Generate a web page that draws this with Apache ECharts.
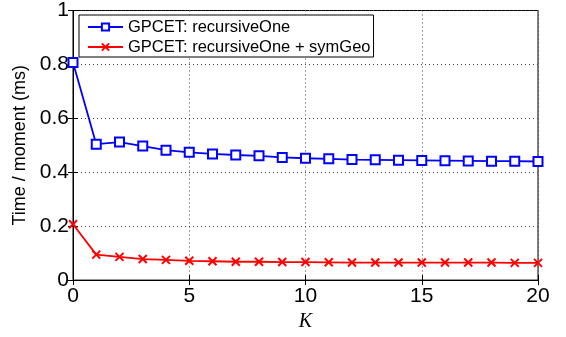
<!DOCTYPE html>
<html><head><meta charset="utf-8">
<script src="https://cdn.jsdelivr.net/npm/echarts@6/dist/echarts.min.js"></script>
<style>html,body{margin:0;padding:0;background:#fff}#c{width:566px;height:337px}</style>
</head><body><div id="c"></div>
<script>
const kValues = [0,1,2,3,4,5,6,7,8,9,10,11,12,13,14,15,16,17,18,19,20];
const recursiveOne = [0.807,0.504,0.512,0.497,0.482,0.474,0.468,0.464,0.461,0.455,0.452,0.450,0.447,0.446,0.445,0.444,0.443,0.442,0.441,0.441,0.440];
const recursiveOneSymGeo = [0.207,0.0945,0.086,0.078,0.075,0.0715,0.070,0.068,0.068,0.067,0.067,0.066,0.065,0.065,0.065,0.065,0.065,0.065,0.065,0.064,0.064];
const seriesNames = ['GPCET: recursiveOne','GPCET: recursiveOne + symGeo'];
const yAxisName = 'Time / moment (ms)';
const xAxisName = 'K';

const font = 'Liberation Sans, Helvetica, Arial, sans-serif';
const chart = echarts.init(document.getElementById('c'), null, {renderer:'canvas'});
const gridLine = {show:true, lineStyle:{color:'#444', type:[1,3], width:1}};
const tickIn = {show:true, inside:true, length:5, lineStyle:{color:'#000'}};
chart.setOption({
  animation:false,
  grid:{left:73, right:28, top:8, bottom:54, show:true, borderColor:'#000', borderWidth:1, backgroundColor:'transparent'},
  legend:{
    orient:'vertical', left:79, top:15, padding:[3,3,1,8], itemGap:2,
    itemWidth:35, itemHeight:9,
    backgroundColor:'#fff', borderColor:'#000', borderWidth:1,
    textStyle:{fontFamily:font, fontSize:16.5, color:'#000', lineHeight:18},
    data:seriesNames
  },
  xAxis:[{
    type:'value', min:0, max:20, interval:5,
    name:xAxisName, nameLocation:'middle', nameGap:27,
    nameTextStyle:{fontFamily:'Liberation Serif, Times New Roman, serif', fontStyle:'italic', fontSize:20, color:'#000'},
    axisLine:{show:true, onZero:false, lineStyle:{color:'#000'}},
    axisTick:tickIn,
    axisLabel:{fontFamily:font, fontSize:21, color:'#000', margin:6},
    splitLine:gridLine
  },{
    type:'value', min:0, max:20, interval:5, position:'top',
    axisLine:{show:true, lineStyle:{color:'#000'}}, axisTick:tickIn, axisLabel:{show:false}, splitLine:{show:false}
  }],
  yAxis:[{
    type:'value', min:0, max:1, interval:0.2,
    name:yAxisName, nameLocation:'middle', nameGap:36,
    nameTextStyle:{fontFamily:font, fontSize:18, color:'#000'},
    axisLine:{show:true, onZero:false, lineStyle:{color:'#000'}},
    axisTick:tickIn,
    axisLabel:{fontFamily:font, fontSize:21, color:'#000', margin:4, formatter:v=>String(Math.round(v*10)/10)},
    splitLine:gridLine
  },{
    type:'value', min:0, max:1, interval:0.2, position:'right',
    axisLine:{show:true, lineStyle:{color:'#000'}}, axisTick:tickIn, axisLabel:{show:false}, splitLine:{show:false}
  }],
  series:[{
    name:seriesNames[0], type:'line',
    data:kValues.map((k,i)=>[k, recursiveOne[i]]),
    symbol:'emptyRect', symbolSize:9, showAllSymbol:true,
    lineStyle:{color:'#0000ff', width:1.8},
    itemStyle:{color:'#0000ff', borderColor:'#0000ff', borderWidth:1.6}
  },{
    name:seriesNames[1], type:'line',
    data:kValues.map((k,i)=>[k, recursiveOneSymGeo[i]]),
    symbol:'path://M0,0L10,10M10,0L0,10', symbolSize:8, showAllSymbol:true,
    lineStyle:{color:'#ff0000', width:1.8},
    itemStyle:{color:'#ff0000', borderColor:'#ff0000', borderWidth:2}
  }]
});
</script></body></html>
